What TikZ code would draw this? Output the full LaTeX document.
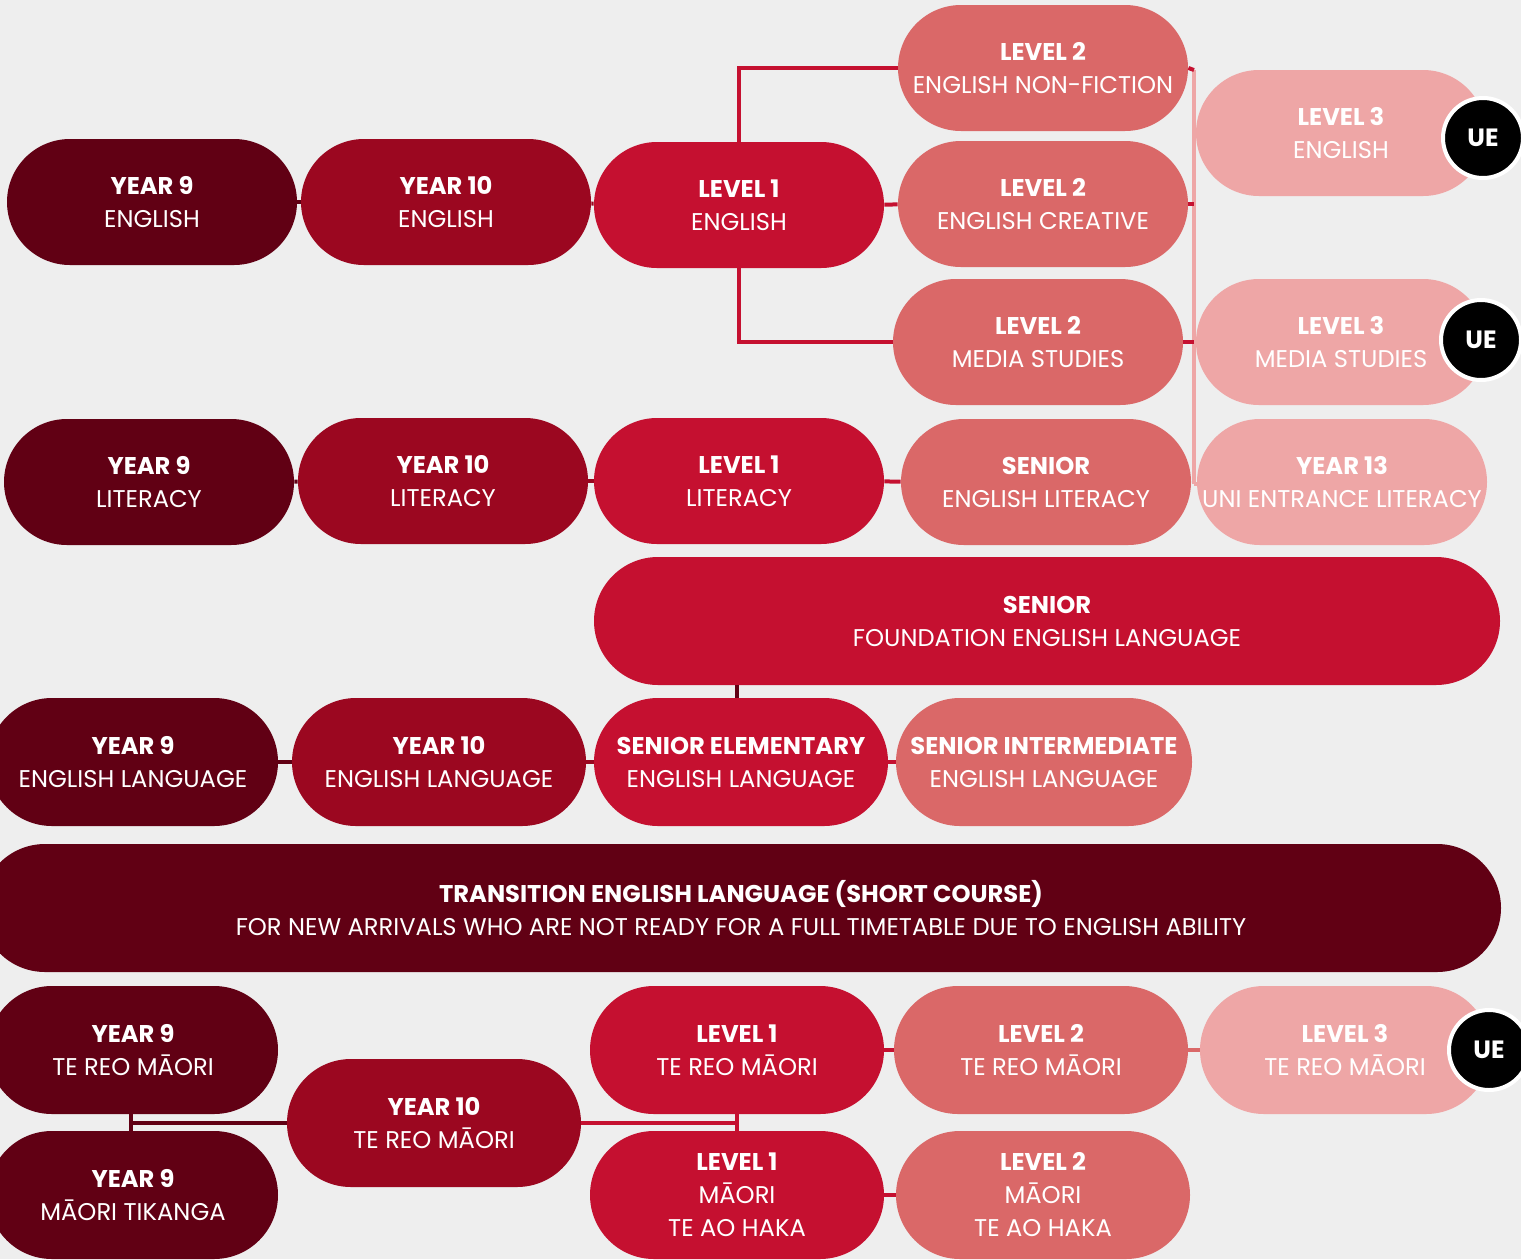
\documentclass[tikz,border=0pt]{standalone}
\usepackage{fontspec}
\setmainfont{Poppins}
\usetikzlibrary{positioning}

\definecolor{nineC}{RGB}{97,0,20}
\definecolor{tenC}{RGB}{155,7,32}
\definecolor{oneC}{RGB}{197,16,48}
\definecolor{twoC}{RGB}{218,104,104}
\definecolor{threeC}{RGB}{238,166,166}
\definecolor{bgC}{RGB}{238,238,238}

\tikzset{
  pill/.style={fill=#1, text=white, rounded corners=31.5pt, minimum width=145pt,
    minimum height=63pt, align=center, inner sep=0pt,
    font=\fontsize{12.1}{16.5}\selectfont},
  wide/.style={minimum width=147pt, minimum height=64pt, rounded corners=32pt},
  link/.style={draw=#1, line width=2pt},
  ue/.style={circle, fill=black, draw=white, line width=2pt, minimum size=40pt,
    inner sep=0pt, text=white, font=\fontsize{12.5}{14}\selectfont\bfseries}
}

\begin{document}
\begin{tikzpicture}[x=0.5pt,y=-0.5pt]
\fill[bgC] (0,0) rectangle (1521,1259);
\useasboundingbox (0,0) rectangle (1521,1259);

% english
\node[pill=nineC] (eNine) at (152,202) {\textbf{YEAR 9}\\ENGLISH};
\node[pill=tenC] (eTen) at (446,202) {\textbf{YEAR 10}\\ENGLISH};
\node[pill=oneC] (eOne) at (739,205) {\textbf{LEVEL 1}\\ENGLISH};
\node[pill=twoC] (eNF) at (1043,68) {\textbf{LEVEL 2}\\ENGLISH NON-FICTION};
\node[pill=twoC] (eCR) at (1043,204) {\textbf{LEVEL 2}\\ENGLISH CREATIVE};
\node[pill=twoC] (eMS) at (1038,342) {\textbf{LEVEL 2}\\MEDIA STUDIES};
\node[pill=threeC] (eThree) at (1341,133) {\textbf{LEVEL 3}\\ENGLISH};
\node[pill=threeC] (mThree) at (1341,342) {\textbf{LEVEL 3}\\MEDIA STUDIES};
  \node[ue] (ueA) at (1483,138) {UE};
  \node[ue] (ueB) at (1481,340) {UE};

% literacy
\node[pill=nineC] (lNine) at (149,482) {\textbf{YEAR 9}\\LITERACY};
\node[pill=tenC] (lTen) at (443,481) {\textbf{YEAR 10}\\LITERACY};
\node[pill=oneC] (lOne) at (739,481) {\textbf{LEVEL 1}\\LITERACY};
\node[pill=twoC] (lSen) at (1046,482) {\textbf{SENIOR}\\ENGLISH LITERACY};
\node[pill=threeC] (lThirteen) at (1342,482) {\textbf{YEAR 13}\\UNI ENTRANCE LITERACY};

% english language
\node[pill=oneC, wide, minimum width=453pt] (fSen) at (1047,621)
  {\textbf{SENIOR}\\FOUNDATION ENGLISH LANGUAGE};
\node[pill=nineC, wide, minimum width=145pt] (gNine) at (133,762) {\textbf{YEAR 9}\\ENGLISH LANGUAGE};
\node[pill=tenC, wide] (gTen) at (439,762) {\textbf{YEAR 10}\\ENGLISH LANGUAGE};
\node[pill=oneC, wide] (gElem) at (741,762) {\textbf{SENIOR ELEMENTARY}\\ENGLISH LANGUAGE};
\node[pill=twoC, wide, minimum width=148pt] (gInter) at (1044,762) {\textbf{SENIOR INTERMEDIATE}\\ENGLISH LANGUAGE};
\node[pill=nineC, wide, minimum width=760pt] (tShort) at (741,908)
  {\textbf{TRANSITION ENGLISH LANGUAGE (SHORT COURSE)}\\FOR NEW ARRIVALS WHO ARE NOT READY FOR A FULL TIMETABLE DUE TO ENGLISH ABILITY};

% te reo
\node[pill=nineC, wide, minimum width=145pt] (rNine) at (133,1050) {\textbf{YEAR 9}\\TE REO MĀORI};
\node[pill=nineC, wide, minimum width=145pt] (kNine) at (133,1195) {\textbf{YEAR 9}\\MĀORI TIKANGA};
\node[pill=tenC, wide] (rTen) at (434,1123) {\textbf{YEAR 10}\\TE REO MĀORI};
\node[pill=oneC, wide] (rOne) at (737,1050) {\textbf{LEVEL 1}\\TE REO MĀORI};
\node[pill=oneC, wide] (hOne) at (737,1195) {\textbf{LEVEL 1}\\MĀORI\\TE AO HAKA};
\node[pill=twoC, wide] (rTwo) at (1041,1050) {\textbf{LEVEL 2}\\TE REO MĀORI};
\node[pill=twoC, wide] (hTwo) at (1043,1195) {\textbf{LEVEL 2}\\MĀORI\\TE AO HAKA};
\node[pill=threeC, wide, minimum width=145pt] (rThree) at (1345,1050) {\textbf{LEVEL 3}\\TE REO MĀORI};
  \node[ue] (ueC) at (1489,1050) {UE};

\coordinate (busTop) at (1194,70);
\coordinate (busEnd) at (1194,484);
\coordinate (knot) at (131,1123);

  \draw[link=nineC] (eNine) -- (eTen);
  \draw[link=tenC] (eTen) -- (eOne);
  \draw[link=oneC] (eOne) -- (eCR);
  \draw[link=oneC] (eOne.north) |- (eNF.west);
  \draw[link=oneC] (eOne.south) |- (eMS.west);
\draw[link=threeC] (busTop) -- (busEnd);
\draw[link=oneC] (eNF.east) -- (busTop);
\draw[link=oneC] (eCR.east) -- (eCR.east -| busTop);
\draw[link=oneC] (eMS.east) -- (eMS.east -| busTop);
\draw[link=threeC] (busEnd) -- (lThirteen.west |- busEnd);

  \draw[link=nineC] (lNine) -- (lTen);
  \draw[link=tenC] (lTen) -- (lOne);
  \draw[link=oneC] (lOne) -- (lSen);

\draw[link=nineC] (gNine) -- (gTen);
\draw[link=tenC] (gTen) -- (gElem);
\draw[link=oneC] (gElem) -- (gInter);
\draw[link=nineC] (737,0 |- gElem.north) -- (737,0 |- fSen.south);

  \draw[link=nineC] (rNine.south -| knot) -- (kNine.north -| knot);
  \draw[link=nineC] (knot) -- (rTen.west);
  \draw[link=oneC] (rTen.east) -- (rOne.south |- rTen.east);
  \draw[link=oneC] (rOne.south) -- (hOne.north);
  \draw[link=oneC] (rOne) -- (rTwo);
  \draw[link=oneC] (hOne) -- (hTwo);
  \draw[link=twoC] (rTwo) -- (rThree);

\end{tikzpicture}
\end{document}
